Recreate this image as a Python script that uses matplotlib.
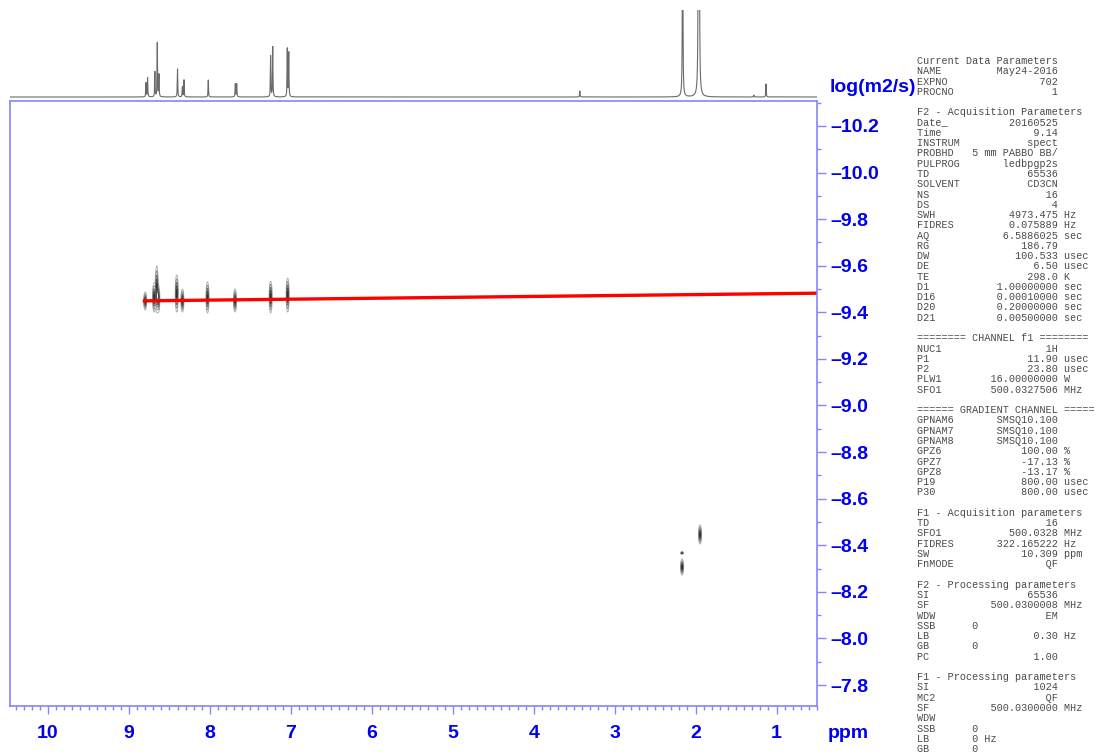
import numpy as np
import matplotlib
matplotlib.use("Agg")
import matplotlib.pyplot as plt
from matplotlib.ticker import MultipleLocator, FuncFormatter

plt.rcParams['font.family'] = ['Liberation Sans', 'DejaVu Sans']
plt.rcParams['font.weight'] = 'bold'

# ---- 1D projection (1H spectrum): peak positions (ppm) and heights ----
proj_ppm = [8.79, 8.77, 8.68, 8.65, 8.63, 8.40, 8.34, 8.32, 8.02, 7.686, 7.669,
            7.25, 7.224, 7.044, 7.026, 3.43, 2.16, 1.965, 1.960, 1.955, 1.28, 1.13]
proj_height = [14, 19, 25, 54, 22, 28, 10, 17, 17, 13, 13,
               41, 50, 48, 44, 6, 300, 300, 300, 300, 2, 13]
proj_hwhm = 0.003

# ---- DOSY cross peaks: chemical shift, logD range (top, bottom) ----
dosy_ppm = [8.80, 8.69, 8.657, 8.637, 8.41, 8.34, 8.03, 7.69, 7.25, 7.04, 2.167, 2.167, 1.945]
dosy_top = [-9.487, -9.526, -9.599, -9.513, -9.560, -9.500, -9.530, -9.500, -9.534, -9.547,
            -8.341, -8.372, -8.487]
dosy_bottom = [-9.410, -9.401, -9.401, -9.401, -9.401, -9.401, -9.397, -9.401, -9.397, -9.401,
               -8.272, -8.362, -8.405]

# ---- fitted diffusion line ----
fit_ppm = [8.83, 0.50]
fit_logd = [-9.449, -9.482]

# ---- axis ranges and ticks ----
ppm_range = (10.47, 0.50)
logd_range = (-7.71, -10.307)
x_ticks = [10, 9, 8, 7, 6, 5, 4, 3, 2, 1]
y_ticks = [-10.2, -10.0, -9.8, -9.6, -9.4, -9.2, -9.0, -8.8, -8.6, -8.4, -8.2, -8.0, -7.8]

# ---- acquisition / processing parameter listing ----
param_lines = [
    "Current Data Parameters",
    ("NAME", "May24-2016", ""),
    ("EXPNO", "702", ""),
    ("PROCNO", "1", ""),
    "",
    "F2 - Acquisition Parameters",
    ("Date_", "20160525", ""),
    ("Time", "9.14", ""),
    ("INSTRUM", "spect", ""),
    ("PROBHD", "5 mm PABBO BB/", ""),
    ("PULPROG", "ledbpgp2s", ""),
    ("TD", "65536", ""),
    ("SOLVENT", "CD3CN", ""),
    ("NS", "16", ""),
    ("DS", "4", ""),
    ("SWH", "4973.475", "Hz"),
    ("FIDRES", "0.075889", "Hz"),
    ("AQ", "6.5886025", "sec"),
    ("RG", "186.79", ""),
    ("DW", "100.533", "usec"),
    ("DE", "6.50", "usec"),
    ("TE", "298.0", "K"),
    ("D1", "1.00000000", "sec"),
    ("D16", "0.00010000", "sec"),
    ("D20", "0.20000000", "sec"),
    ("D21", "0.00500000", "sec"),
    "",
    "======== CHANNEL f1 ========",
    ("NUC1", "1H", ""),
    ("P1", "11.90", "usec"),
    ("P2", "23.80", "usec"),
    ("PLW1", "16.00000000", "W"),
    ("SFO1", "500.0327506", "MHz"),
    "",
    "====== GRADIENT CHANNEL =====",
    ("GPNAM6", "SMSQ10.100", ""),
    ("GPNAM7", "SMSQ10.100", ""),
    ("GPNAM8", "SMSQ10.100", ""),
    ("GPZ6", "100.00", "%"),
    ("GPZ7", "-17.13", "%"),
    ("GPZ8", "-13.17", "%"),
    ("P19", "800.00", "usec"),
    ("P30", "800.00", "usec"),
    "",
    "F1 - Acquisition parameters",
    ("TD", "16", ""),
    ("SFO1", "500.0328", "MHz"),
    ("FIDRES", "322.165222", "Hz"),
    ("SW", "10.309", "ppm"),
    ("FnMODE", "QF", ""),
    "",
    "F2 - Processing parameters",
    ("SI", "65536", ""),
    ("SF", "500.0300008", "MHz"),
    ("WDW", "EM", ""),
    "SSB      0",
    ("LB", "0.30", "Hz"),
    "GB       0",
    ("PC", "1.00", ""),
    "",
    "F1 - Processing parameters",
    ("SI", "1024", ""),
    ("MC2", "QF", ""),
    ("SF", "500.0300000", "MHz"),
    "WDW",
    "SSB      0",
    "LB       0 Hz",
    "GB       0",
]

W, H = 1097, 754
fig = plt.figure(figsize=(W / 100, H / 100), dpi=100)

blue = '#0000ee'
frame = '#8484ff'

# ---------------- main DOSY panel ----------------
ax = fig.add_axes([10 / W, 1 - 706 / H, 807 / W, 605 / H])
ax.set_xlim(*ppm_range)
ax.set_ylim(*logd_range)

# contour field built from the cross-peak list
gx = np.arange(0.5, 10.47, 0.002)
gy = np.arange(-10.31, -7.70, 0.004)
field = np.zeros((gy.size, gx.size))
sx = 0.010
for p, t, b in zip(dosy_ppm, dosy_top, dosy_bottom):
    c = 0.5 * (t + b)
    sy = abs(b - t) / 3.9
    ex = np.exp(-0.5 * ((gx - p) / sx) ** 2)
    ey = np.exp(-0.5 * ((gy - c) / sy) ** 2)
    field += np.outer(ey, ex)
levels = [0.15, 0.3, 0.5, 0.7, 0.9]
ax.contour(gx, gy, field, levels=levels,
           colors=['#a8a8a8', '#8a8a8a', '#6a6a6a', '#4a4a4a', '#303030'],
           linewidths=0.6)

ax.plot(fit_ppm, fit_logd, color='#ff0000', lw=2.4, solid_capstyle='butt')

for s in ax.spines.values():
    s.set_color(frame)
    s.set_linewidth(1.2)

ax.yaxis.tick_right()
ax.set_xticks(x_ticks)
ax.set_yticks(y_ticks)
ax.xaxis.set_minor_locator(MultipleLocator(0.1))
ax.yaxis.set_minor_locator(MultipleLocator(0.1))
ax.yaxis.set_major_formatter(FuncFormatter(lambda v, _: f"{v:.1f}".replace('-', '\u2013')))
ax.tick_params(axis='both', which='both', direction='out', color=frame, width=1.0)
ax.tick_params(axis='y', which='major', length=6.5, pad=3, labelsize=14, labelcolor=blue)
ax.tick_params(axis='y', which='minor', length=3)
ax.tick_params(axis='x', which='major', length=6, pad=8, labelsize=14, labelcolor=blue)
ax.tick_params(axis='x', which='minor', length=3)
for lbl in ax.get_xticklabels() + ax.get_yticklabels():
    lbl.set_fontweight('bold')

fig.text(830 / W, 1 - 87 / H, "log(m2/s)", color=blue, fontsize=14,
         fontweight='bold', ha='left', va='center')
fig.text(828 / W, 1 - 733 / H, "ppm", color=blue, fontsize=14,
         fontweight='bold', ha='left', va='center')

# ---------------- 1D projection on top ----------------
axs = fig.add_axes([10 / W, 1 - 99 / H, 807 / W, 89 / H])
axs.set_xlim(*ppm_range)
axs.set_ylim(-2, 87)
sx_ppm = np.arange(0.5, 10.47, 0.0005)
spec = np.zeros_like(sx_ppm)
for p, h in zip(proj_ppm, proj_height):
    spec += h * proj_hwhm ** 2 / ((sx_ppm - p) ** 2 + proj_hwhm ** 2)
axs.plot(sx_ppm, spec, color='#6a6a6a', lw=0.8)
axs.axis('off')

# ---------------- parameter listing ----------------
y0 = 61
step = 10.27
for i, entry in enumerate(param_lines):
    if isinstance(entry, tuple):
        name, val, unit = entry
        line = name.ljust(23 - len(val)) + val
        if unit:
            line += " " + unit
    else:
        line = entry
    if not line:
        continue
    fig.text(917 / W, 1 - (y0 + i * step) / H, line, family='Liberation Mono',
             fontsize=7.3, fontweight='normal', color='#4a4a4a',
             ha='left', va='center')

fig.savefig("out.png", dpi=100)
